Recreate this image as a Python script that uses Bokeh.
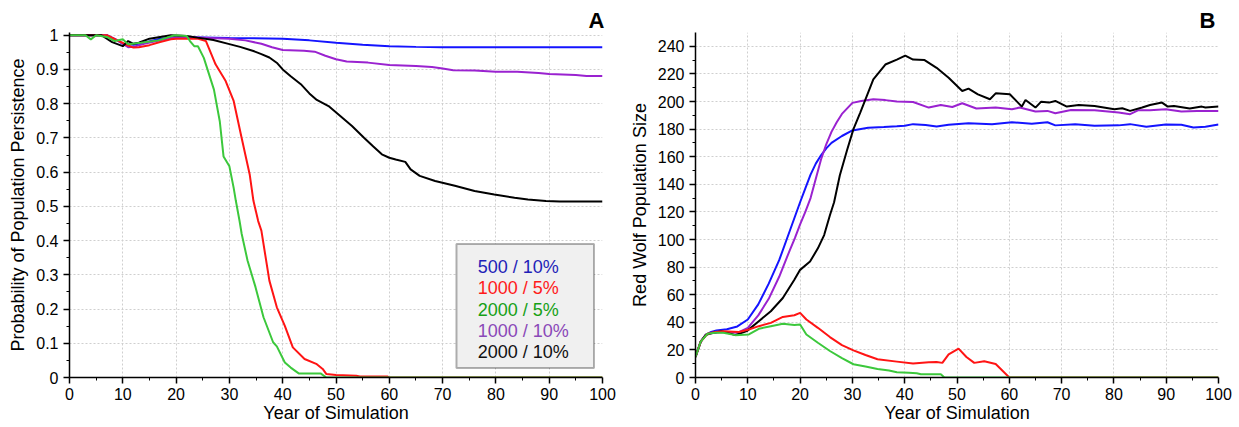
from bokeh.plotting import figure
from bokeh.layouts import row
from bokeh.models import Range1d, FixedTicker, BoxAnnotation, Label
from bokeh.embed import file_html
from bokeh.resources import INLINE

# ---------------- Panel A: probability of persistence ----------------
a_blue_x = [0, 7, 9, 10, 12, 14, 17, 20, 30, 40, 45, 50, 55, 60, 65, 70, 100]
a_blue_y = [1, 1, 0.985, 0.975, 0.972, 0.978, 0.99, 0.995, 0.992, 0.99, 0.985, 0.978, 0.972, 0.968, 0.966, 0.965, 0.965]

a_purple_x = [0, 7, 9, 11, 12, 14, 17, 20, 25, 30, 33, 36, 38, 40, 44, 46, 48, 50, 52, 56, 60, 65, 68, 70, 72, 76, 80, 84, 88, 90, 95, 97, 100]
a_purple_y = [1, 1, 0.985, 0.965, 0.966, 0.975, 0.985, 0.995, 0.993, 0.99, 0.985, 0.975, 0.965, 0.957, 0.955, 0.952, 0.94, 0.93, 0.923, 0.92, 0.913, 0.91, 0.907, 0.903, 0.898, 0.897, 0.893, 0.893, 0.89, 0.887, 0.884, 0.881, 0.881]

a_black_x = [0, 6, 8, 10, 11, 12, 13, 15, 17, 19, 22, 24, 27, 30, 32, 34.5, 36, 37.5, 39, 40, 41.5, 43.4, 45, 46.4, 48.6, 50.8, 53, 55.3, 57, 58.6, 60, 61.2, 63, 64, 65.7, 68.6, 72.3, 76, 79.7, 83.5, 86, 89.4, 92, 100]
a_black_y = [1, 1, 0.98, 0.968, 0.983, 0.975, 0.978, 0.99, 0.995, 1.0, 0.998, 0.993, 0.986, 0.974, 0.966, 0.954, 0.945, 0.935, 0.918, 0.90, 0.88, 0.857, 0.83, 0.811, 0.793, 0.764, 0.735, 0.70, 0.675, 0.652, 0.642, 0.637, 0.63, 0.608, 0.589, 0.574, 0.56, 0.545, 0.535, 0.525, 0.52, 0.516, 0.514, 0.514]

a_red_x = [0, 7, 9, 11, 12, 13, 15, 17, 19, 20, 22, 24, 25.6, 27.4, 29.3, 30.8, 32.3, 33.8, 34.5, 35.4, 36, 37.5, 38.9, 40.4, 41.9, 44.1, 46.4, 47.5, 48.2, 50, 53.8, 54.5, 59.7, 60, 100]
a_red_y = [1, 1, 0.985, 0.97, 0.964, 0.965, 0.971, 0.98, 0.988, 0.99, 0.99, 0.99, 0.983, 0.915, 0.866, 0.808, 0.70, 0.594, 0.517, 0.457, 0.429, 0.283, 0.205, 0.151, 0.088, 0.054, 0.039, 0.025, 0.010, 0.007, 0.005, 0.003, 0.003, 0, 0]

a_green_x = [0, 3, 4, 5, 7, 8.5, 10, 11, 13.4, 16.7, 19.7, 22, 22.6, 23.4, 24.1, 25.2, 27.1, 28.2, 28.9, 30, 30.8, 31.2, 31.9, 32.3, 33.4, 34.9, 36.4, 38.2, 38.9, 40.4, 41.5, 43, 47.1, 48.2, 100]
a_green_y = [1, 1, 0.988, 1.0, 0.995, 0.983, 0.988, 0.974, 0.978, 0.985, 1.0, 0.998, 0.983, 0.968, 0.968, 0.934, 0.841, 0.748, 0.646, 0.617, 0.554, 0.517, 0.458, 0.42, 0.342, 0.264, 0.176, 0.103, 0.091, 0.044, 0.029, 0.012, 0.012, 0.0, 0.0]

# ---------------- Panel B: population size ----------------
b_blue_x = [0, 1, 2, 3, 4, 6, 8, 10, 12, 14, 16, 18, 20, 21, 22, 23, 24, 25, 26, 28, 30, 33, 36, 38.5, 40, 41.6, 44, 46.1, 48.4, 52.2, 56.7, 60.5, 64.3, 67.3, 68.8, 72.6, 76.3, 80.9, 83.1, 86.2, 89.9, 92.9, 95.2, 97.5, 100]
b_blue_y = [15, 26, 31, 33, 34, 35, 37, 42, 53, 68, 85, 106, 127, 137, 147, 155, 161, 166, 170, 175, 179, 181, 181.5, 182, 182.5, 183.6, 183, 181.9, 183.1, 184.3, 183.6, 185, 183.9, 185, 182.7, 183.6, 182.4, 182.7, 183.6, 181.7, 183.4, 183.1, 181.2, 181.7, 183.4]

b_purple_x = [0, 1, 2, 3, 5, 8, 10, 12, 14, 16, 18, 19, 20, 21, 22, 23, 24, 25, 26, 27, 28, 30, 31.7, 34, 36.3, 38.5, 41.6, 44.6, 46.9, 49.1, 51, 53.7, 57.4, 60.5, 62, 65, 67.3, 68.8, 71.8, 76.3, 80.9, 83.1, 84.7, 86.9, 89.9, 92.9, 95.9, 100]
b_purple_y = [15, 26, 31, 32, 33, 32.4, 36, 45, 57, 73, 92, 101, 111, 120, 130, 144, 158, 169, 178, 185, 191, 199, 200.4, 201.6, 201, 200, 199.6, 195.6, 197.5, 196, 198.7, 194.9, 195.6, 194.4, 195.6, 192.7, 193.2, 191.5, 193.9, 193.7, 192, 190.8, 193.7, 193.7, 194.4, 192.7, 193.2, 193.2]

b_black_x = [0, 1, 2, 3, 5, 7.6, 9.8, 12.1, 14.4, 16.7, 18.9, 20, 21.9, 23.4, 24.6, 25.7, 26.5, 27.6, 29, 30.2, 31.5, 32.5, 34, 36.3, 38.5, 40.1, 41.6, 43.8, 46.1, 48.4, 51, 52.2, 54, 56.3, 57.4, 60.1, 62.4, 63.1, 65, 66.1, 67.6, 68.8, 71, 73.3, 76.3, 80.1, 81.6, 83.1, 85.4, 86.9, 89.2, 90.3, 91.5, 94.5, 96.8, 97.5, 100]
b_black_y = [15, 26, 31, 32, 33.6, 30.7, 33.6, 40.8, 48, 57.6, 70.8, 78, 84, 93.6, 103.2, 117.6, 127, 146.5, 165, 180, 192, 201.6, 216, 226.8, 230.4, 233.3, 230.4, 230, 224.4, 217.2, 207.6, 209.3, 205.2, 201.6, 205.9, 205.2, 196.3, 201.1, 195.6, 199.9, 199.2, 200.4, 196.3, 197.5, 196.8, 194.4, 195.1, 193.2, 195.6, 197.5, 199.2, 196.3, 196.8, 194.9, 196.3, 195.6, 196.3]

b_red_x = [0, 1, 2.3, 3.8, 5.3, 8.3, 10.2, 12.1, 14.4, 16.7, 18.9, 20, 21.2, 23.4, 25.7, 28, 30.2, 32.5, 34.8, 38.5, 41.6, 44.6, 46.1, 47.2, 48.4, 50.3, 51.8, 53.3, 55.2, 57.4, 60, 100]
b_red_y = [15, 26, 31.7, 33, 33.6, 33, 34.8, 37.2, 39.6, 43.9, 45.1, 46.8, 42, 36, 29.3, 23.5, 19.7, 16.3, 13.2, 11.5, 10.1, 11, 11.2, 10.6, 16.8, 20.9, 14.9, 10.6, 11.8, 9.8, 0, 0]

b_green_x = [0, 1, 2.3, 3.8, 5.3, 7.6, 10.2, 12.1, 14.4, 16.7, 18.9, 20, 21.2, 23.4, 25.7, 28, 30.2, 32.5, 34.8, 37, 38.5, 40.8, 42.3, 43.1, 46.9, 47.6, 100]
b_green_y = [15, 26, 31.7, 32.5, 32.4, 30.7, 31.2, 35.3, 37.2, 38.9, 38, 38.4, 31.2, 25.2, 19.2, 14, 9.6, 7.9, 6.2, 5, 3.8, 3.4, 3.1, 2.4, 2.4, 0, 0]

legend_labels = ["500 / 10%", "1000 / 5%", "2000 / 5%", "1000 / 10%", "2000 / 10%"]
x_ticks = [0, 10, 20, 30, 40, 50, 60, 70, 80, 90, 100]
a_y_ticks = [0, 0.1, 0.2, 0.3, 0.4, 0.5, 0.6, 0.7, 0.8, 0.9, 1.0]
b_y_ticks = [0, 20, 40, 60, 80, 100, 120, 140, 160, 180, 200, 220, 240]

C_BLUE = "#1414ff"
C_RED = "#ff1414"
C_GREEN = "#3cc83c"
C_PURPLE = "#9a22d0"
C_BLACK = "#000000"
LEG_COLORS = ["#1f1fb8", "#ff1a1a", "#16a016", "#8a48b8", "#111111"]

FONT = "Liberation Sans"


def style(p, yticks, yminor, ylabel, letter, letter_offset):
    p.outline_line_color = None
    p.background_fill_color = "white"
    p.border_fill_color = "white"
    p.xaxis.ticker = FixedTicker(ticks=x_ticks, minor_ticks=[v + 5 for v in x_ticks[:-1]])
    p.yaxis.ticker = FixedTicker(ticks=yticks, minor_ticks=yminor)
    for ax in (p.xaxis[0], p.yaxis[0]):
        ax.axis_line_color = "black"
        ax.axis_line_width = 1.5
        ax.major_tick_line_color = "black"
        ax.major_tick_line_width = 1.5
        ax.minor_tick_line_color = "black"
        ax.minor_tick_line_width = 1
        ax.major_tick_out = 6
        ax.major_tick_in = 0
        ax.minor_tick_out = 3
        ax.minor_tick_in = 0
        ax.major_label_text_font = FONT
        ax.major_label_text_font_size = "16px"
        ax.major_label_text_color = "black"
        ax.axis_label_text_font = FONT
        ax.axis_label_text_font_size = "18px"
        ax.axis_label_text_font_style = "normal"
        ax.axis_label_text_color = "black"
        ax.major_label_standoff = 5
        ax.axis_label_standoff = 5
    p.xaxis.axis_label = "Year of Simulation"
    p.yaxis.axis_label = ylabel
    p.xaxis.major_label_standoff = 4
    p.xaxis.axis_label_standoff = 0
    for g in (p.xgrid[0], p.ygrid[0]):
        g.grid_line_color = "#cfcfcf"
        g.grid_line_dash = "2 2"
        g.grid_line_width = 1
    p.title.text = letter
    p.title.align = "right"
    p.title.text_font = FONT
    p.title.text_font_size = "22px"
    p.title.text_font_style = "bold"
    p.title.text_color = "black"
    p.title.standoff = 0
    p.title.offset = letter_offset


# ---------- Figure A ----------
pa = figure(width=620, height=427, x_range=Range1d(0, 100), y_range=Range1d(0, 1.008),
            output_backend="svg", toolbar_location=None, title="A",
            min_border_left=69, min_border_right=18, min_border_top=32, min_border_bottom=50)
style(pa, a_y_ticks, [round(0.05 + 0.1 * i, 3) for i in range(10)],
      "Probability of Population Persistence", "A", -2)
pa.yaxis.major_label_overrides = {0: "0", 1: "1"}

pa.line(a_blue_x, a_blue_y, line_color=C_BLUE, line_width=2)
pa.line(a_purple_x, a_purple_y, line_color=C_PURPLE, line_width=2)
pa.line(a_red_x, a_red_y, line_color=C_RED, line_width=2)
pa.line(a_black_x, a_black_y, line_color=C_BLACK, line_width=2)
pa.line(a_green_x, a_green_y, line_color=C_GREEN, line_width=2)

box = BoxAnnotation(left=72.6, right=98.4, bottom=0.0275, top=0.390,
                    fill_color="#f0f0f0", fill_alpha=1.0, line_color="black", line_width=2)
pa.add_layout(box)
for i, (txt, col) in enumerate(zip(legend_labels, LEG_COLORS)):
    pa.add_layout(Label(x=76.6, y=0.3237 - i * 0.0626, text=txt, text_color=col,
                        text_font=FONT, text_font_size="18px", text_baseline="middle",
                        text_align="left"))

# ---------- Figure B ----------
pb = figure(width=619, height=427, x_range=Range1d(0, 100), y_range=Range1d(0, 250),
            output_backend="svg", toolbar_location=None, title="B",
            min_border_left=75, min_border_right=21, min_border_top=29, min_border_bottom=50)
style(pb, b_y_ticks, [10 + 20 * i for i in range(12)], "Red Wolf Population Size", "B", 3)

pb.line(b_blue_x, b_blue_y, line_color=C_BLUE, line_width=2)
pb.line(b_purple_x, b_purple_y, line_color=C_PURPLE, line_width=2)
pb.line(b_black_x, b_black_y, line_color=C_BLACK, line_width=2)
pb.line(b_red_x, b_red_y, line_color=C_RED, line_width=2)
pb.line(b_green_x, b_green_y, line_color=C_GREEN, line_width=2)

layout = row(pa, pb)
open("out.html", "w").write(file_html(layout, INLINE))
